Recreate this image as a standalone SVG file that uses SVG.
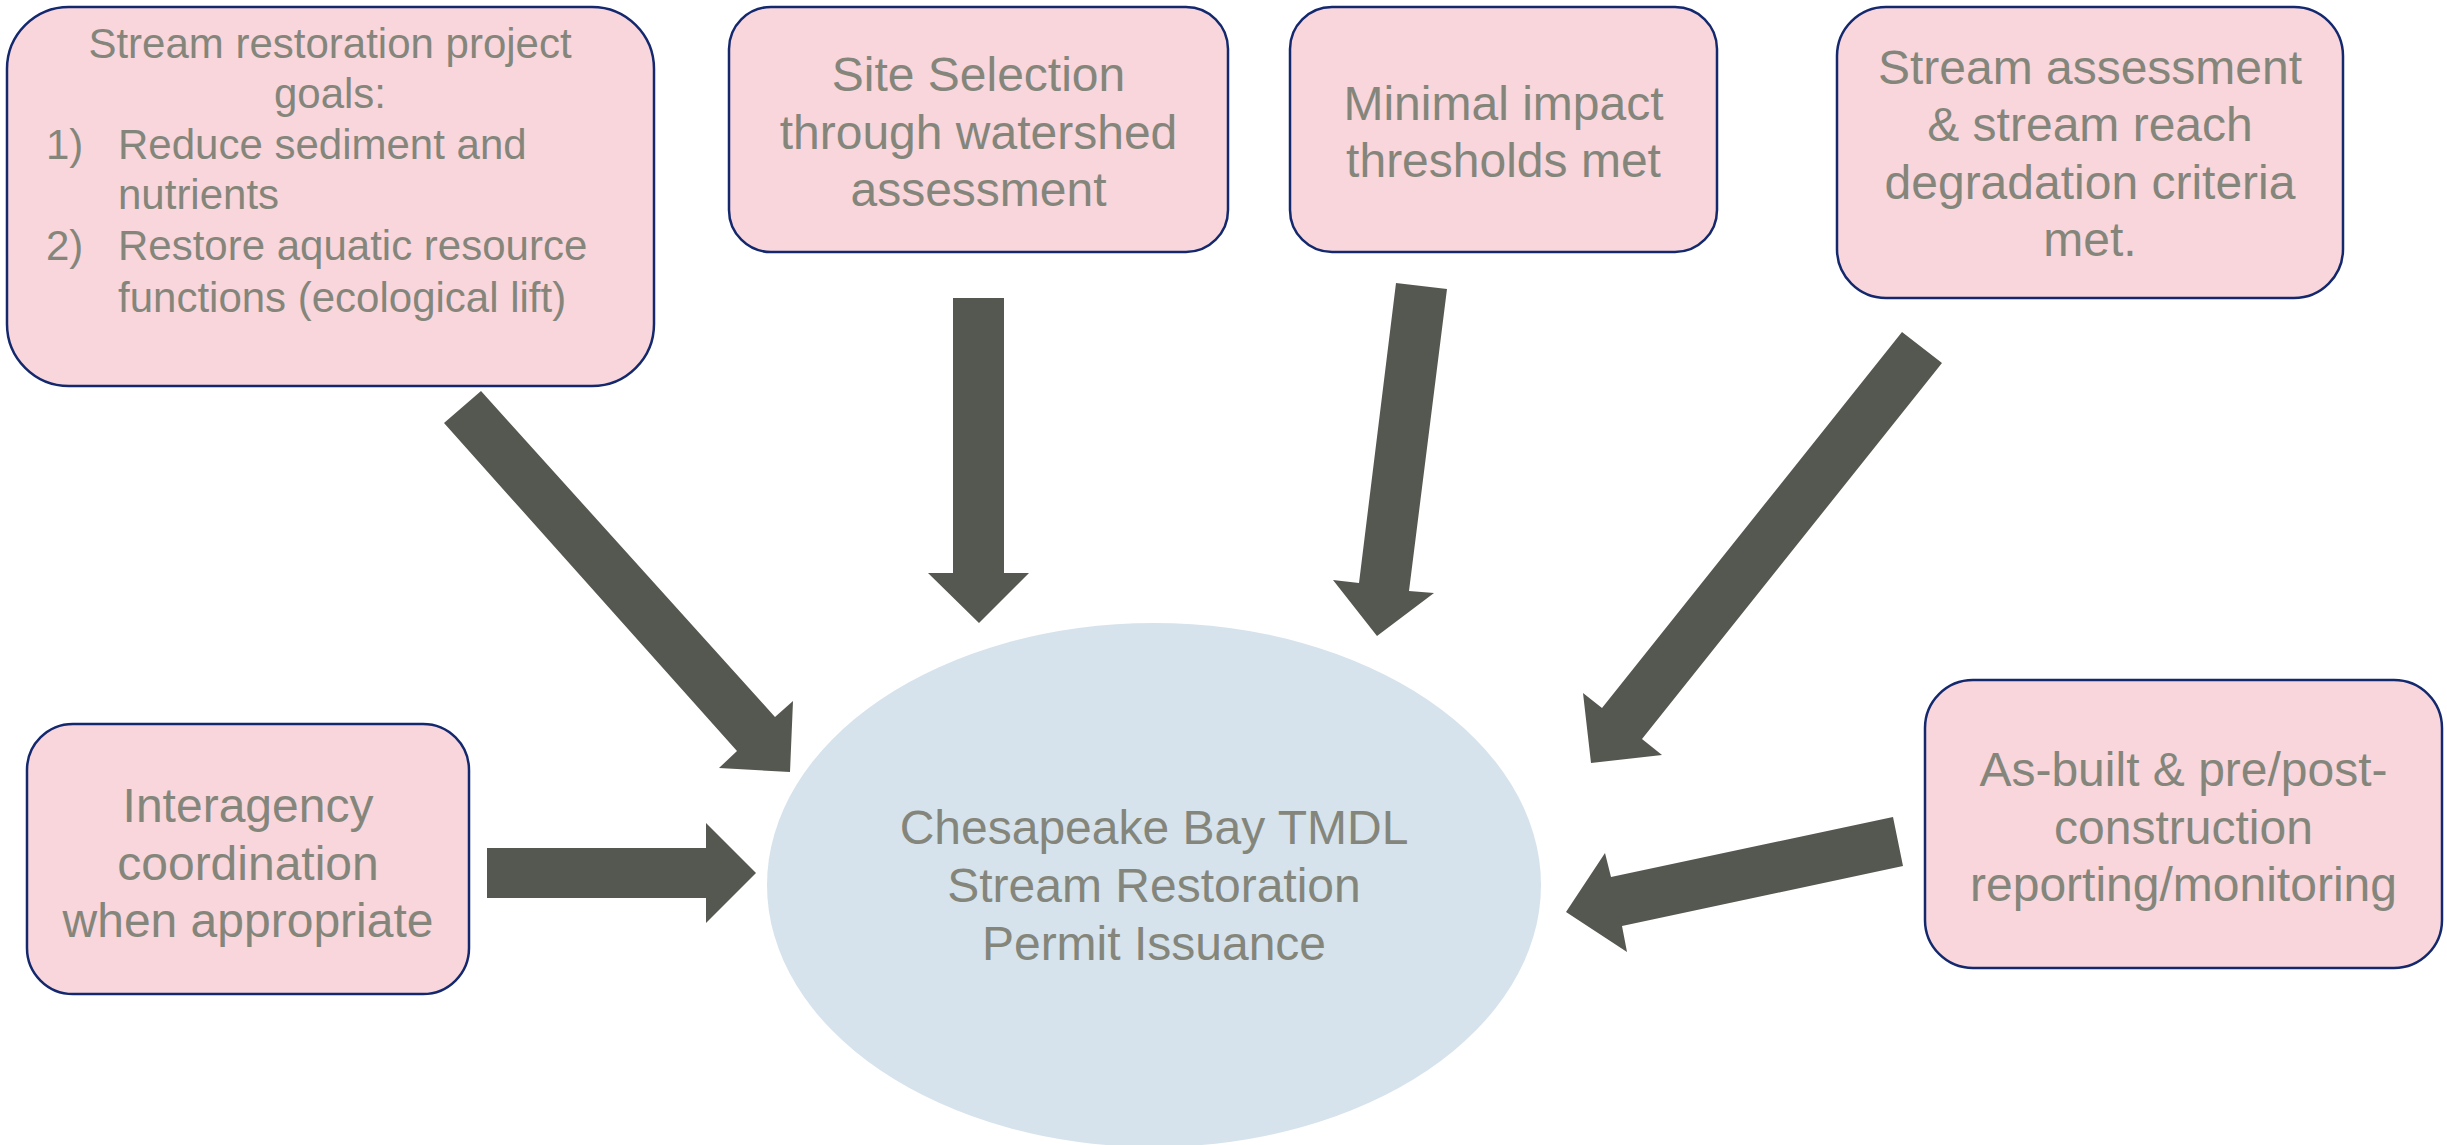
<svg xmlns="http://www.w3.org/2000/svg" width="2447" height="1145" viewBox="0 0 2447 1145">
  <style>
    .box { fill: #F8D6DB; stroke: #14286E; stroke-width: 2.5; }
    .txt { font-family: "Liberation Sans", Arial, sans-serif; fill: #85867B; font-size: 48px; text-anchor: middle; }
    .small { font-size: 42px; }
    .left { text-anchor: start; }
    .arrow { fill: #555850; }
  </style>
  <rect width="2447" height="1145" fill="#FFFFFF"/>

  <!-- central permit node -->
  <g id="permit">
    <ellipse cx="1154" cy="885" rx="387" ry="262" fill="#D6E3EC"/>
    <text class="txt" x="1154" y="844">Chesapeake Bay TMDL</text>
    <text class="txt" x="1154" y="902">Stream Restoration</text>
    <text class="txt" x="1154" y="960">Permit Issuance</text>
  </g>

  <!-- block arrows pointing into the permit node -->
  <g id="connectors">
    <polygon class="arrow" points="444,423 481,391 775,717 793,701 790,772 719,768 737,751"/>
    <polygon class="arrow" points="953,298 1004,298 1004,573 1029,573 979,623 928,573 953,573"/>
    <polygon class="arrow" points="1396,283 1447,289 1409,591 1434,593 1377,636 1333,580 1359,583"/>
    <polygon class="arrow" points="1902,332 1942,363 1642,739 1662,755 1591,763 1583,693 1602,708"/>
    <polygon class="arrow" points="487,848 706,848 706,823 756,873 706,923 706,898 487,898"/>
    <polygon class="arrow" points="1893,817 1903,866 1622,926 1627,952 1566,912 1605,853 1611,877"/>
  </g>

  <g id="goals">
    <rect class="box" x="7" y="7" width="647" height="379" rx="62" ry="62"/>
    <text class="txt small" x="330" y="58">Stream restoration project</text>
    <text class="txt small" x="330" y="108">goals:</text>
    <text class="txt small left" x="46" y="159">1)</text>
    <text class="txt small left" x="118" y="159">Reduce sediment and</text>
    <text class="txt small left" x="118" y="209">nutrients</text>
    <text class="txt small left" x="46" y="260">2)</text>
    <text class="txt small left" x="118" y="260">Restore aquatic resource</text>
    <text class="txt small left" x="118" y="312">functions (ecological lift)</text>
  </g>

  <g id="site-selection">
    <rect class="box" x="729" y="7" width="499" height="245" rx="42" ry="42"/>
    <text class="txt" x="978.5" y="90.5">Site Selection</text>
    <text class="txt" x="978.5" y="148.5">through watershed</text>
    <text class="txt" x="978.5" y="205.5">assessment</text>
  </g>

  <g id="minimal-impact">
    <rect class="box" x="1290" y="7" width="427" height="245" rx="42" ry="42"/>
    <text class="txt" x="1503.5" y="119.5">Minimal impact</text>
    <text class="txt" x="1503.5" y="176.5">thresholds met</text>
  </g>

  <g id="stream-assessment">
    <rect class="box" x="1837" y="7" width="506" height="291" rx="49" ry="49"/>
    <text class="txt" x="2090" y="84">Stream assessment</text>
    <text class="txt" x="2090" y="141">&amp; stream reach</text>
    <text class="txt" x="2090" y="199">degradation criteria</text>
    <text class="txt" x="2090" y="256">met.</text>
  </g>

  <g id="interagency">
    <rect class="box" x="27" y="724" width="442" height="270" rx="46" ry="46"/>
    <text class="txt" x="248" y="822">Interagency</text>
    <text class="txt" x="248" y="880">coordination</text>
    <text class="txt" x="248" y="937">when appropriate</text>
  </g>

  <g id="reporting">
    <rect class="box" x="1925" y="680" width="517" height="288" rx="48" ry="48"/>
    <text class="txt" x="2183.5" y="785.5">As-built &amp; pre/post-</text>
    <text class="txt" x="2183.5" y="843.5">construction</text>
    <text class="txt" x="2183.5" y="900.5">reporting/monitoring</text>
  </g>
</svg>
